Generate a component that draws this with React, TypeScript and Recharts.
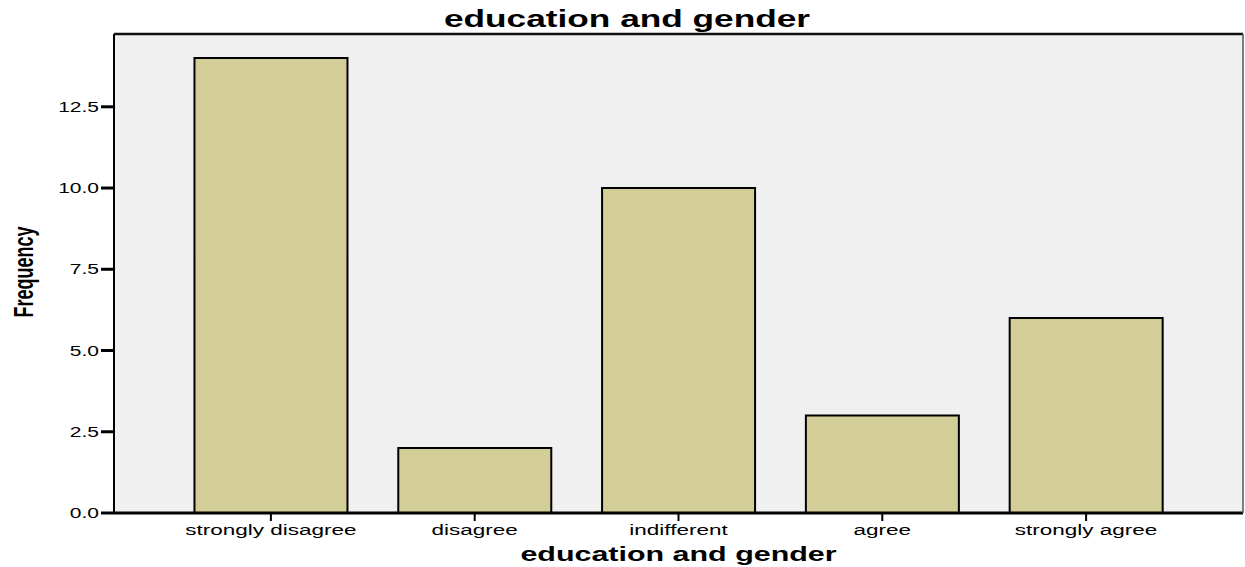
import { Bar, BarChart, CartesianGrid, ReferenceLine, XAxis, YAxis } from "recharts";

const categories = ["strongly disagree", "disagree", "indifferent", "agree", "strongly agree"];
const frequency = [14, 2, 10, 3, 6];
const yTicks = [0, 2.5, 5, 7.5, 10, 12.5];
const yMax = 14.74;

const chartTitle = "education and gender";
const xTitle = "education and gender";
const yTitle = "Frequency";

const data = categories.map((name, i) => ({ name, frequency: frequency[i] }));

const FONT = "'Liberation Sans', Arial, sans-serif";
const STRETCH = 1.5;

function XTick({ x, y, payload }: any) {
  return (
    <g transform={`translate(${x},${y})`}>
      <text transform={`scale(${STRETCH},1)`} textAnchor="middle" dy="0.72em" fontSize={15} fontFamily={FONT} fill="#000">
        {payload.value}
      </text>
    </g>
  );
}

function YTick({ x, y, payload }: any) {
  return (
    <g transform={`translate(${x},${y})`}>
      <text transform={`scale(${STRETCH},1)`} textAnchor="end" dy="0.36em" fontSize={14} fontFamily={FONT} fill="#000">
        {Number(payload.value).toFixed(1)}
      </text>
    </g>
  );
}

function XLabel({ viewBox }: any) {
  const cx = viewBox.x + viewBox.width / 2;
  return (
    <g transform={`translate(${cx},561)`}>
      <text transform={`scale(${STRETCH},1)`} textAnchor="middle" fontSize={20.3} fontWeight="bold" fontFamily={FONT} fill="#000">
        {xTitle}
      </text>
    </g>
  );
}

function YLabel() {
  return (
    <g transform="translate(33,272) rotate(-90) scale(1,1.5)">
      <text textAnchor="middle" fontSize={18} fontWeight="bold" fontFamily={FONT} fill="#000">
        {yTitle}
      </text>
    </g>
  );
}

export default function App() {
  return (
    <div style={{ position: "absolute", left: 0, top: 0, width: 1245, height: 567, background: "#fff" }}>
      <BarChart
        width={1245}
        height={567}
        data={data}
        margin={{ top: 34, right: 1, bottom: 0, left: 0 }}
        barCategoryGap="12.5%"
      >
        <CartesianGrid horizontal={false} vertical={false} fill="#f0f0f0" />
        <XAxis
          dataKey="name"
          height={54}
          padding={{ left: 55, right: 55 }}
          axisLine={{ stroke: "#000", strokeWidth: 3 }}
          tickLine={{ stroke: "#000", strokeWidth: 2 }}
          tickSize={8}
          tickMargin={3}
          tick={<XTick />}
          interval={0}
          label={<XLabel />}
        />
        <YAxis
          width={114}
          domain={[0, yMax]}
          ticks={yTicks}
          allowDataOverflow
          axisLine={{ stroke: "#000", strokeWidth: 2 }}
          tickLine={{ stroke: "#000", strokeWidth: 3 }}
          tickSize={13}
          tickMargin={2}
          tick={<YTick />}
          label={<YLabel />}
        />
        <YAxis
          yAxisId="right"
          orientation="right"
          type="number"
          domain={[0, 1]}
          width={1}
          tick={false}
          tickLine={false}
          axisLine={{ stroke: "#555", strokeWidth: 1.5 }}
        />
        <ReferenceLine y={yMax} stroke="#111" strokeWidth={2.5} />
        <Bar dataKey="frequency" fill="#d3ce98" stroke="#000" strokeWidth={2} isAnimationActive={false} />
      </BarChart>
      <svg width={1245} height={40} style={{ position: "absolute", left: 0, top: 0, pointerEvents: "none" }}>
        <g transform="translate(627,27)">
          <text transform={`scale(${STRETCH},1)`} textAnchor="middle" fontSize={23.5} fontWeight="bold" fontFamily={FONT} fill="#000">
            {chartTitle}
          </text>
        </g>
      </svg>
    </div>
  );
}
